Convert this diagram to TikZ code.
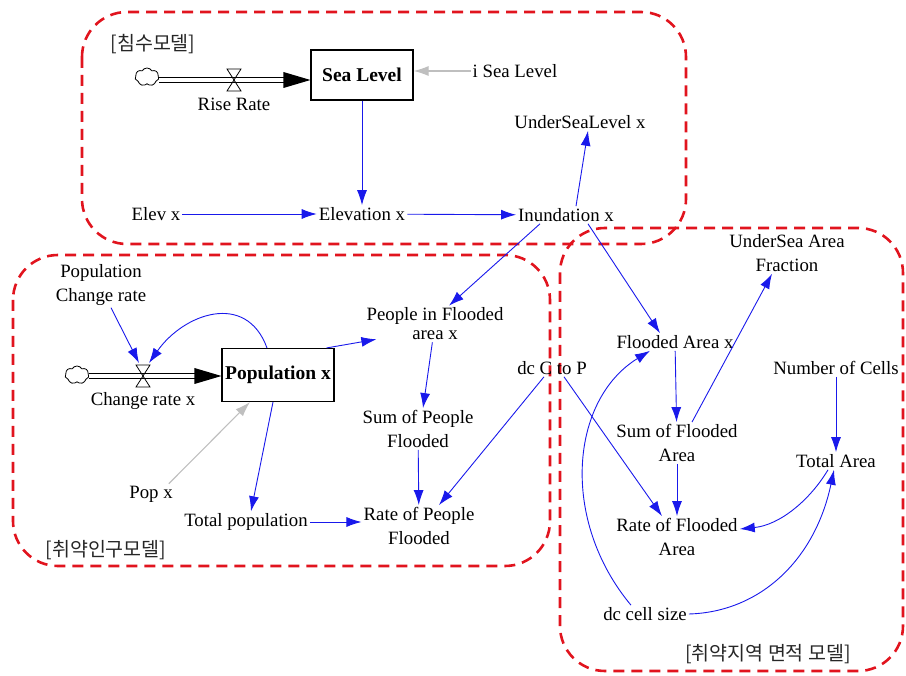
\documentclass[tikz,border=0pt]{standalone}
\usepackage{fontspec}
\setmainfont{Liberation Serif}
\newfontfamily\krfont{Noto Sans CJK KR}
\usetikzlibrary{arrows.meta,shapes.symbols}
\definecolor{linkblue}{RGB}{25,25,235}
\definecolor{zonered}{RGB}{225,20,30}
\tikzset{
  var/.style={align=center, inner sep=2pt, font=\fontsize{18.8}{24}\selectfont},
  stock/.style={draw, line width=1.1pt, minimum width=102pt, minimum height=50pt, inner sep=2pt,
    font=\fontsize{19.5}{24}\selectfont\bfseries},
  link/.style={linkblue, line width=0.9pt, -{Latex[length=15pt,width=10pt]}},
  greylink/.style={black!25, line width=1.1pt, -{Latex[length=15pt,width=10pt]}},
  zone/.style={zonered, line width=2.6pt, dash pattern=on 11pt off 7pt, rounded corners=45pt},
  zonelabel/.style={inner sep=1pt, font=\krfont\fontsize{19.5}{22}\selectfont, text=black!85},
  pipe/.style={double, double distance=4pt, line width=0.8pt},
  source/.style={cloud, cloud puffs=7, cloud puff arc=120, draw, line width=0.8pt,
    minimum width=24pt, minimum height=18pt, inner sep=0pt},
  valve/.pic={\draw[line width=0.8pt] (-7,11) -- (7,11) -- (0,0) -- cycle (-7,-11) -- (7,-11) -- (0,0) -- cycle;}
}
\begin{document}
\begin{tikzpicture}[x=1pt, y=1pt]
  \useasboundingbox (0,0) rectangle (906,-676);

  % model zones
  \draw[zone] (82,-12) rectangle (686,-244);
  \draw[zone] (13,-255) rectangle (550,-566);
  \draw[zone] (560,-228) rectangle (903,-671);
  \node[zonelabel] (floodLbl) at (153,-44) {[침수모델]};
  \node[zonelabel] (popLbl) at (106,-550) {[취약인구모델]};
  \node[zonelabel] (areaLbl) at (768,-654) {[취약지역 면적 모델]};

  % sea level stock and flow
  \node[stock] (seaLevel) at (362,-75) {Sea Level};
  \node[source] (cloudA) at (147,-77) {};
  \coordinate (valveA) at (234,-80);
  \draw[pipe] (cloudA.east |- valveA) -- ([xshift=-26pt]seaLevel.west |- valveA);
  \fill (seaLevel.west |- valveA) -- ++(-27,8) -- ++(0,-16) -- cycle;
  \pic at (valveA) {valve};
  \node[var] (riseRate) at (234,-104) {Rise Rate};
  \node[var] (iSea) at (515,-71) {i Sea Level};
  \node[var] (underSeaLvl) at (580,-122) {UnderSeaLevel x};
  \node[var] (elev) at (156,-214) {Elev x};
  \node[var] (elevation) at (362,-214) {Elevation x};
  \node[var] (inund) at (566,-215) {Inundation x};

  \draw[greylink] (iSea) -- (seaLevel.east |- iSea);
  \draw[link] (seaLevel) -- (elevation);
  \draw[link] (elev) -- (elevation);
  \draw[link] (elevation) -- (inund);
  \draw[link] ([xshift=10pt]inund.north) -- ([xshift=8pt]underSeaLvl.south);

  % population stock and flow
  \node[stock, minimum width=112pt, minimum height=53pt] (pop) at (278,-375) {Population x};
  \node[source] (cloudB) at (77,-375) {};
  \coordinate (valveB) at (143,-376);
  \draw[pipe] (cloudB.east |- valveB) -- ([xshift=-26pt]pop.west |- valveB);
  \fill (pop.west |- valveB) -- ++(-27,8) -- ++(0,-16) -- cycle;
  \pic at (valveB) {valve};
  \node[var] (chgRate) at (143,-401) {Change rate x};
  \node[var] (popChg) at (101,-285) {Population\\Change rate};
  \node[var] (popX) at (151,-494) {Pop x};
  \node[var] (totalPop) at (246,-522) {Total population};
  \node[var, font=\fontsize{18.8}{19}\selectfont] (peopleFl) at (435,-324) {People in Flooded\\area x};
  \node[var] (sumPeople) at (418,-429) {Sum of People\\Flooded};
  \node[var] (ratePeople) at (419,-526) {Rate of People\\Flooded};
  \node[var] (dcCP) at (552,-368) {dc C to P};

  \draw[link] ([xshift=10pt]popChg.south) -- ([xshift=-4pt]valveB |- 0,-363);
  \draw[link] ([xshift=-11pt]pop.north) to[out=110, in=55, looseness=1.3] ([xshift=6pt]valveB |- 0,-363);
  \draw[greylink] ([xshift=-6pt]popX.north east) -- ([xshift=-28pt]pop.south);
  \draw[link] ([xshift=-5pt]pop.south) -- ([xshift=5pt]totalPop.north);
  \draw[link] (totalPop) -- (totalPop -| ratePeople.west);
  \draw[link] ([xshift=-8pt]pop.north east) -- ([xshift=12pt,yshift=3pt]peopleFl.south west);
  \draw[link] ([xshift=-26pt]inund.south) -- ([xshift=14pt]peopleFl.north);
  \draw[link] (peopleFl) -- ([xshift=5pt]sumPeople.north);
  \draw[link] (sumPeople) -- (ratePeople);
  \draw[link] ([xshift=-8pt]dcCP.south) -- ([xshift=20pt]ratePeople.north);

  % flooded area
  \node[var] (underFrac) at (787,-253) {UnderSea Area\\Fraction};
  \node[var] (floodedA) at (675,-342) {Flooded Area x};
  \node[var] (sumFlooded) at (677,-443) {Sum of Flooded\\Area};
  \node[var] (rateFlooded) at (677,-537) {Rate of Flooded\\Area};
  \node[var] (numCells) at (836,-368) {Number of Cells};
  \node[var] (totalArea) at (836,-461) {Total Area};
  \node[var] (dcCell) at (645,-614) {dc cell size};

  \draw[link] ([xshift=22pt]inund.south) -- ([xshift=-15pt]floodedA.north);
  \draw[link] (floodedA) -- (sumFlooded);
  \draw[link] (sumFlooded) -- (rateFlooded);
  \draw[link] ([xshift=15pt]sumFlooded.north) -- ([xshift=-15pt]underFrac.south);
  \draw[link] (numCells) -- (totalArea);
  \draw[link] ([xshift=12pt]dcCP.south) -- ([xshift=-15pt]rateFlooded.north);
  \draw[link] ([xshift=-14pt]dcCell.north) .. controls (560,-520) and (570,-400) .. ([xshift=-25pt]floodedA.south);
  \draw[link] (dcCell.east) .. controls (760,-612) and (815,-560) .. ([xshift=-2pt]totalArea.south);
  \draw[link] ([xshift=-8pt]totalArea.south) .. controls (810,-500) and (780,-525) .. ([yshift=8pt]rateFlooded.east);
\end{tikzpicture}
\end{document}
